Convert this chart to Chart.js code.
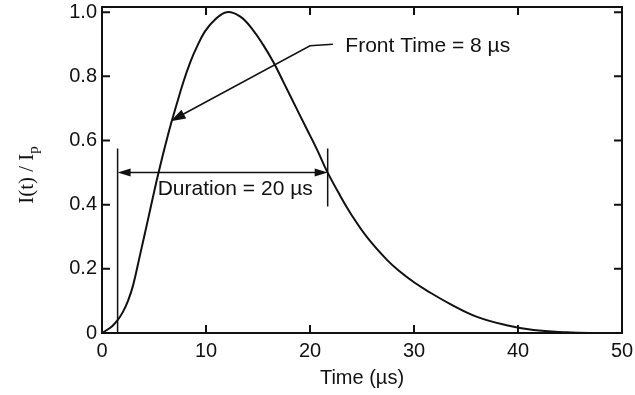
<!DOCTYPE html>
<html>
<head>
<meta charset="utf-8">
<script src="https://cdn.jsdelivr.net/npm/chart.js@4.4.0/dist/chart.umd.min.js"></script>
<style>
  html, body { margin: 0; padding: 0; background: #fff; }
  #wrap { width: 635px; height: 395px; }
</style>
</head>
<body>
<div id="wrap"><canvas id="chartPulse"></canvas></div>
<script>
// normalised lightning current waveform
const times = [0, 0.5, 1, 1.5, 2, 2.5, 3, 3.6, 4.5, 5.4, 6.4, 7.2, 7.8, 8.5, 9.1, 9.9, 10.9, 12, 13.3, 14.5, 15.5, 16.5, 17.4, 18.7, 19.7, 20.7, 21.6, 22.9, 24, 25.5, 27.4, 28.7, 30, 31.2, 33.5, 36, 38.9, 41.5, 44.7, 47, 50];
const current = [0, 0.01, 0.022, 0.04, 0.065, 0.1, 0.15, 0.235, 0.365, 0.495, 0.624, 0.715, 0.78, 0.845, 0.89, 0.94, 0.978, 1.0, 0.986, 0.945, 0.898, 0.843, 0.785, 0.7, 0.635, 0.57, 0.506, 0.428, 0.368, 0.298, 0.228, 0.19, 0.158, 0.133, 0.09, 0.051, 0.024, 0.009, 0.002, 0, 0];

const xTicks = [0, 10, 20, 30, 40, 50];
const yTicks = [0, 0.2, 0.4, 0.6, 0.8, 1.0];
const yTickLabels = ['0', '0.2', '0.4', '0.6', '0.8', '1.0'];

// annotations (data units)
const durationStart = 1.5;
const durationEnd = 21.7;
const durationLevel = 0.5;
const durationLineTop = 0.575;
const durationEndBottom = 0.394;
const durationText = 'Duration = 20 µs';
const durationTextPos = [5.35, 0.447];

const frontLeaderX = [6.6, 20.0, 22.2];
const frontLeaderY = [0.66, 0.895, 0.9];
const frontText = 'Front Time = 8 µs';
const frontTextPos = [23.4, 0.894];

const INK = '#111';
const LABEL_FONT = '21px "Liberation Sans", Arial, sans-serif';

function arrowHead(ctx, x, y, angle, len, half) {
    ctx.save();
    ctx.translate(x, y);
    ctx.rotate(angle);
    ctx.beginPath();
    ctx.moveTo(0, 0);
    ctx.lineTo(-len, -half);
    ctx.lineTo(-len, half);
    ctx.closePath();
    ctx.fill();
    ctx.restore();
}

const framePlugin = {
    id: 'frame',
    afterDraw(chart) {
        const ctx = chart.ctx;
        const a = chart.chartArea;
        const xs = chart.scales.x;
        const ys = chart.scales.y;
        ctx.save();
        ctx.strokeStyle = INK;
        ctx.fillStyle = INK;
        ctx.lineWidth = 2;
        ctx.strokeRect(a.left, a.top, a.right - a.left, a.bottom - a.top);

        // inward ticks on all four sides
        const tl = 8;
        ctx.beginPath();
        xTicks.forEach(v => {
            const px = xs.getPixelForValue(v);
            ctx.moveTo(px, a.bottom); ctx.lineTo(px, a.bottom - tl);
            ctx.moveTo(px, a.top); ctx.lineTo(px, a.top + tl);
        });
        yTicks.forEach(v => {
            const py = ys.getPixelForValue(v);
            ctx.moveTo(a.left, py); ctx.lineTo(a.left + tl, py);
            ctx.moveTo(a.right, py); ctx.lineTo(a.right - tl, py);
        });
        ctx.stroke();

        // duration marker
        ctx.lineWidth = 1.5;
        const x1 = xs.getPixelForValue(durationStart);
        const x2 = xs.getPixelForValue(durationEnd);
        const yl = ys.getPixelForValue(durationLevel);
        ctx.beginPath();
        ctx.moveTo(x1, ys.getPixelForValue(0));
        ctx.lineTo(x1, ys.getPixelForValue(durationLineTop));
        ctx.moveTo(x2, ys.getPixelForValue(durationEndBottom));
        ctx.lineTo(x2, ys.getPixelForValue(durationLineTop));
        ctx.moveTo(x1 + 4, yl);
        ctx.lineTo(x2 - 4, yl);
        ctx.stroke();
        arrowHead(ctx, x1, yl, Math.PI, 13, 4);
        arrowHead(ctx, x2, yl, 0, 13, 4);

        // front time leader
        const lx = frontLeaderX.map(v => xs.getPixelForValue(v));
        const ly = frontLeaderY.map(v => ys.getPixelForValue(v));
        ctx.beginPath();
        ctx.moveTo(lx[0] + 6, ly[0] - 3.5);
        for (let i = 1; i < lx.length; i++) ctx.lineTo(lx[i], ly[i]);
        ctx.stroke();
        const ang = Math.atan2(ly[0] - ly[1], lx[0] - lx[1]);
        arrowHead(ctx, lx[0], ly[0], ang, 15, 5);

        ctx.font = LABEL_FONT;
        ctx.textBaseline = 'middle';
        ctx.textAlign = 'left';
        ctx.fillText(durationText, xs.getPixelForValue(durationTextPos[0]), ys.getPixelForValue(durationTextPos[1]));
        ctx.fillText(frontText, xs.getPixelForValue(frontTextPos[0]), ys.getPixelForValue(frontTextPos[1]));

        // y axis title with subscript
        ctx.translate(33, (a.top + a.bottom) / 2 + 5);
        ctx.rotate(-Math.PI / 2);
        ctx.textBaseline = 'alphabetic';
        ctx.font = '21px "Liberation Serif", "Times New Roman", serif';
        const main = 'I(t) / I';
        const w1 = ctx.measureText(main).width;
        ctx.font = '15px "Liberation Serif", "Times New Roman", serif';
        const w2 = ctx.measureText('p').width;
        const start = -(w1 + w2) / 2;
        ctx.font = '21px "Liberation Serif", "Times New Roman", serif';
        ctx.fillText(main, start, 0);
        ctx.font = '15px "Liberation Serif", "Times New Roman", serif';
        ctx.fillText('p', start + w1, 5);
        ctx.restore();
    }
};

const ctxPulse = document.querySelector('#chartPulse').getContext('2d');
const pulseChart = new Chart(ctxPulse, {
    type: 'line',
    data: {
        datasets: [{
            data: times.map((t, i) => ({ x: t, y: current[i] })),
            borderColor: INK,
            borderWidth: 2,
            pointRadius: 0,
            tension: 0.4,
            fill: false
        }]
    },
    options: {
        responsive: true,
        maintainAspectRatio: false,
        animation: false,
        events: [],
        layout: { padding: { top: 7, right: 13, left: 0, bottom: 0 } },
        plugins: { legend: { display: false }, tooltip: { enabled: false } },
        scales: {
            x: {
                type: 'linear',
                min: 0,
                max: 50,
                grid: { display: false, drawTicks: false },
                border: { display: false },
                afterBuildTicks(scale) { scale.ticks = xTicks.map(v => ({ value: v })); },
                afterFit(scale) { scale.height = 62; scale.paddingLeft = 0; scale.paddingRight = 0; },
                ticks: {
                    padding: 6,
                    color: INK,
                    maxRotation: 0,
                    font: { family: '"Liberation Sans", Arial, sans-serif', size: 20 },
                    callback: v => String(v)
                },
                title: {
                    display: true,
                    text: 'Time (µs)',
                    color: INK,
                    padding: { top: 0, bottom: 5 },
                    font: { family: '"Liberation Sans", Arial, sans-serif', size: 20 }
                }
            },
            y: {
                min: 0,
                max: 1.016,
                grid: { display: false, drawTicks: false },
                border: { display: false },
                afterBuildTicks(scale) { scale.ticks = yTicks.map(v => ({ value: v })); },
                afterFit(scale) { scale.width = 102; scale.paddingTop = 0; scale.paddingBottom = 0; },
                ticks: {
                    padding: 5,
                    color: INK,
                    font: { family: '"Liberation Sans", Arial, sans-serif', size: 20 },
                    callback: v => yTickLabels[yTicks.indexOf(v)] ?? ''
                }
            }
        }
    },
    plugins: [framePlugin]
});
</script>
</body>
</html>
